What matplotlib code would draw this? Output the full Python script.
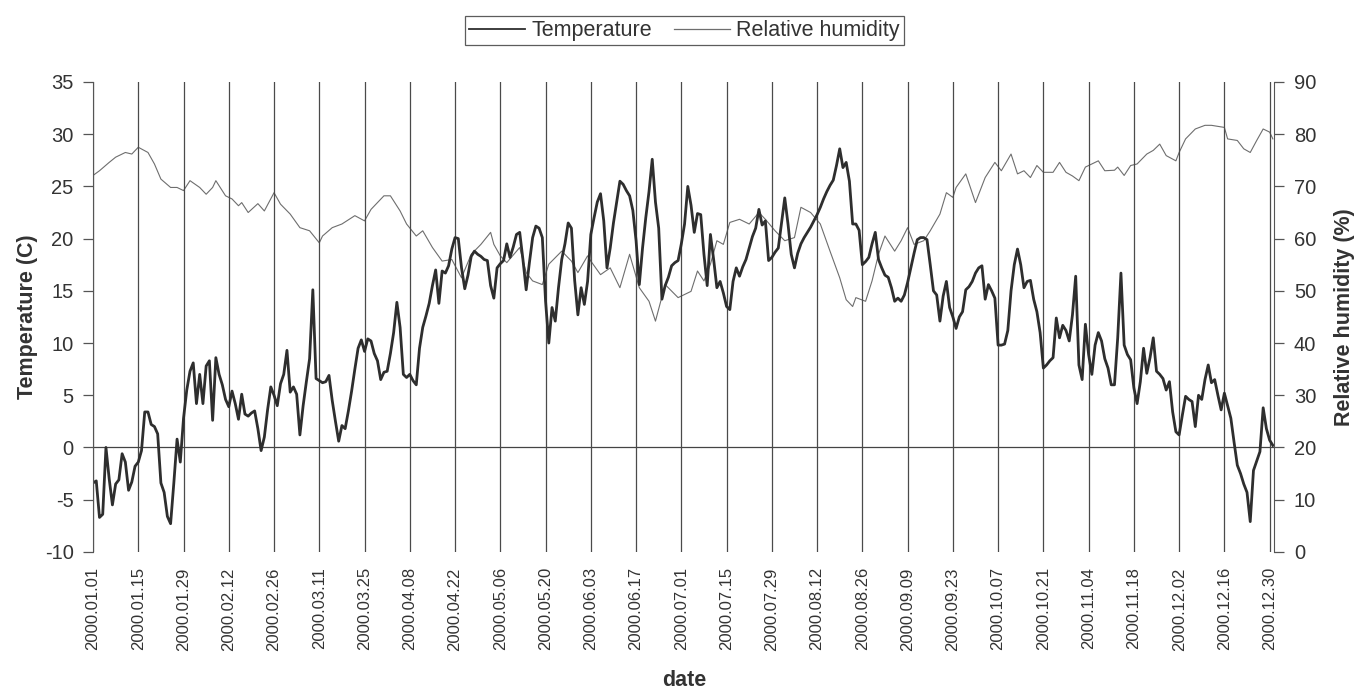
import matplotlib
matplotlib.use('Agg')
import matplotlib.pyplot as plt
import matplotlib.dates as mdates
from matplotlib.lines import Line2D
import pandas as pd

plt.rcParams['font.family'] = ['Liberation Sans', 'DejaVu Sans']
plt.rcParams['axes.unicode_minus'] = False

# daily mean temperature (C), 2000.01.01 .. 2000.12.31
temperature = [
    -3.4, -3.2, -6.7, -6.4, 0.0, -3.0, -5.5, -3.5, -3.1, -0.6,
    -1.4, -4.1, -3.3, -1.8, -1.4, -0.3, 3.4, 3.4, 2.2, 2.0,
    1.3, -3.4, -4.3, -6.6, -7.3, -3.4, 0.8, -1.4, 2.8, 5.5,
    7.3, 8.1, 4.2, 7.0, 4.2, 7.8, 8.3, 2.6, 8.6, 7.0,
    6.0, 4.6, 3.9, 5.4, 4.2, 2.7, 5.1, 3.2, 3.0, 3.3,
    3.5, 1.8, -0.3, 1.0, 3.6, 5.8, 5.0, 4.0, 6.1, 7.0,
    9.3, 5.3, 5.8, 5.1, 1.2, 4.0, 6.3, 8.5, 15.1, 6.6,
    6.4, 6.2, 6.3, 6.9, 4.5, 2.5, 0.6, 2.1, 1.8, 3.5,
    5.4, 7.5, 9.5, 10.3, 9.2, 10.4, 10.2, 9.0, 8.3, 6.5,
    7.2, 7.3, 9.0, 11.0, 13.9, 11.5, 7.0, 6.7, 7.0, 6.4,
    6.0, 9.5, 11.5, 12.6, 13.8, 15.5, 17.0, 13.8, 16.9, 16.7,
    17.4, 19.0, 20.1, 20.0, 17.2, 15.2, 16.5, 18.3, 18.8, 18.5,
    18.3, 18.0, 17.9, 15.5, 14.3, 17.2, 17.6, 17.9, 19.5, 18.2,
    19.2, 20.4, 20.6, 18.0, 15.1, 17.7, 20.1, 21.2, 21.0, 20.1,
    14.0, 10.0, 13.4, 12.1, 15.3, 18.0, 19.5, 21.5, 21.0, 16.0,
    12.7, 15.3, 13.7, 15.9, 20.4, 22.0, 23.5, 24.3, 21.7, 17.2,
    19.1, 21.5, 23.5, 25.5, 25.2, 24.6, 24.1, 22.7, 19.8, 15.6,
    19.1, 22.0, 24.5, 27.6, 23.5, 21.0, 14.2, 15.5, 16.3, 17.4,
    17.7, 17.9, 19.5, 21.4, 25.0, 23.2, 20.6, 22.4, 22.3, 18.5,
    15.5, 20.4, 18.0, 15.3, 15.9, 14.8, 13.5, 13.2, 15.9, 17.2,
    16.4, 17.3, 18.0, 19.1, 20.2, 21.0, 22.8, 21.3, 21.7, 17.9,
    18.2, 18.7, 19.1, 21.5, 23.9, 21.4, 18.5, 17.2, 18.6, 19.5,
    20.1, 20.6, 21.1, 21.7, 22.3, 23.0, 23.8, 24.5, 25.1, 25.6,
    27.0, 28.6, 26.8, 27.3, 25.5, 21.4, 21.4, 20.8, 17.5, 17.8,
    18.2, 19.5, 20.6, 18.0, 17.2, 16.5, 16.3, 15.3, 14.0, 14.3,
    14.0, 14.6, 15.8, 17.2, 18.6, 19.9, 20.1, 20.1, 19.9, 17.5,
    15.0, 14.6, 12.1, 14.5, 15.9, 13.4, 12.5, 11.4, 12.5, 13.0,
    15.1, 15.4, 15.9, 16.7, 17.2, 17.4, 14.2, 15.6, 15.0, 14.3,
    9.8, 9.8, 9.9, 11.2, 15.0, 17.5, 19.0, 17.5, 15.3, 15.9,
    16.0, 14.2, 13.0, 11.0, 7.6, 7.9, 8.3, 8.6, 12.4, 10.5,
    11.7, 11.2, 10.2, 12.7, 16.4, 7.9, 6.5, 11.8, 8.9, 7.0,
    9.8, 11.0, 10.2, 8.5, 7.6, 6.0, 6.0, 10.5, 16.7, 9.8,
    8.9, 8.4, 5.7, 4.2, 6.3, 9.5, 7.1, 8.6, 10.5, 7.3,
    7.0, 6.6, 5.5, 6.3, 3.4, 1.5, 1.2, 3.1, 4.9, 4.6,
    4.4, 2.0, 5.0, 4.6, 6.5, 7.9, 6.2, 6.5, 5.0, 3.6,
    5.2, 4.0, 2.8, 0.5, -1.7, -2.5, -3.5, -4.3, -7.1, -2.2,
    -1.3, -0.4, 3.8, 1.8, 0.7, 0.2,
]

# relative humidity (%), read at these day offsets from 2000.01.01
humidity_days = [
    0, 2, 5, 7, 10, 12, 14, 17, 19, 21, 24, 26, 28, 30, 33, 35, 37, 38,
    41, 43, 45, 46, 48, 51, 53, 56, 58, 61, 64, 67, 70, 71, 74, 77, 81,
    84, 86, 90, 92, 95, 97, 100, 102, 105, 108, 111, 114, 117, 120, 123,
    124, 126, 128, 132, 134, 136, 139, 141, 145, 148, 150, 153, 154, 157,
    160, 163, 166, 169, 172, 174, 177, 181, 185, 187, 189, 191, 193, 195,
    197, 200, 203, 206, 208, 211, 214, 217, 219, 222, 225, 228, 231, 233,
    235, 236, 239, 241, 243, 245, 248, 250, 252, 254, 257, 259, 262, 264,
    266, 267, 270, 273, 276, 279, 281, 284, 286, 288, 290, 292, 294, 297,
    299, 301, 303, 305, 307, 311, 313, 316, 317, 319, 321, 323, 326, 328,
    330, 332, 335, 336, 338, 341, 344, 346, 350, 351, 354, 356, 358, 360,
    362, 364, 365,
]
humidity = [
    72.1, 73.0, 74.6, 75.6, 76.5, 76.2, 77.5, 76.5, 74.3, 71.4, 69.8, 69.8,
    69.2, 71.1, 69.8, 68.5, 69.8, 71.1, 68.2, 67.6, 66.3, 66.9, 65.0, 66.7,
    65.3, 68.8, 66.6, 64.7, 62.1, 61.5, 59.2, 60.5, 62.1, 62.8, 64.4, 63.4,
    65.6, 68.2, 68.2, 65.3, 62.8, 60.5, 61.5, 58.3, 55.7, 56.0, 52.5, 57.0,
    58.9, 61.2, 58.9, 56.7, 55.4, 58.3, 53.5, 51.9, 51.2, 55.1, 57.6, 55.7,
    53.5, 56.7, 55.7, 53.1, 54.4, 50.6, 57.0, 50.6, 48.0, 44.2, 51.2, 48.7,
    49.9, 53.8, 51.9, 55.1, 59.6, 58.9, 63.1, 63.7, 62.8, 65.0, 63.7, 61.5,
    59.6, 60.2, 66.0, 65.0, 62.8, 57.6, 52.5, 48.3, 47.0, 48.7, 48.0, 51.9,
    57.0, 60.5, 57.6, 59.6, 62.1, 58.9, 59.6, 61.5, 64.7, 68.8, 67.9, 69.8,
    72.4, 66.9, 71.7, 74.6, 73.0, 76.2, 72.4, 73.0, 71.7, 74.0, 72.7, 72.7,
    74.6, 72.7, 72.0, 71.1, 73.7, 74.9, 73.0, 73.1, 73.7, 72.1, 74.0, 74.3,
    76.2, 76.9, 78.1, 75.9, 74.9, 76.5, 79.1, 81.0, 81.7, 81.7, 81.3, 79.1,
    78.8, 77.2, 76.5, 78.8, 81.0, 80.4, 79.1,
]

start = pd.Timestamp('2000-01-01')
temp_dates = pd.date_range(start, periods=len(temperature), freq='D')
hum_dates = start + pd.to_timedelta(humidity_days, unit='D')
tick_dates = pd.date_range(start, '2000-12-30', freq='14D')

fig = plt.figure(figsize=(13.58, 6.89), dpi=100)
ax = fig.add_axes([0.0685, 0.199, 0.870, 0.682])
ax2 = ax.twinx()

ax2.plot(hum_dates, humidity, color='#6e6e6e', linewidth=0.8)
ax.plot(temp_dates, temperature, color='#2e2e2e', linewidth=2.0)
ax.axhline(0, color='#444444', linewidth=0.9, zorder=1)

ax.set_zorder(ax2.get_zorder() + 1)
ax.patch.set_visible(False)

ax.set_xlim(start, start + pd.Timedelta(days=365.5))
ax.set_ylim(-10, 35)
ax2.set_ylim(0, 90)
ax.set_yticks(range(-10, 36, 5))
ax2.set_yticks(range(0, 91, 10))

ax.set_xticks(tick_dates)
ax.xaxis.set_major_formatter(mdates.DateFormatter('%Y.%m.%d'))
ax.tick_params(axis='x', length=0, labelsize=12, rotation=90, pad=11,
               labelcolor='#333333')
ax.tick_params(axis='y', length=7, width=0.9, color='#555555', labelsize=14.5,
               pad=7, labelcolor='#333333')
ax2.tick_params(axis='y', length=7, width=0.9, color='#555555', labelsize=14.5,
                pad=7, labelcolor='#333333')
ax.grid(axis='x', color='#4a4a4a', linewidth=0.9)

for a in (ax, ax2):
    a.spines['top'].set_visible(False)
    a.spines['bottom'].set_visible(False)
    a.spines['left'].set_color('#555555')
    a.spines['right'].set_color('#555555')
ax.spines['right'].set_visible(False)
ax2.spines['left'].set_visible(False)

ax.set_ylabel('Temperature (C)', fontsize=15.5, fontweight='bold', labelpad=5,
              color='#333333')
ax2.set_ylabel('Relative humidity (%)', fontsize=15.5, fontweight='bold',
               labelpad=13, color='#333333')
ax.set_xlabel('date', fontsize=15.5, fontweight='bold', labelpad=14,
              color='#333333')

handles = [Line2D([], [], color='#2e2e2e', linewidth=1.3),
           Line2D([], [], color='#6e6e6e', linewidth=0.9)]
leg = fig.legend(handles, ['Temperature', 'Relative humidity'], loc='upper center',
                 bbox_to_anchor=(0.504, 0.977), borderaxespad=0, ncol=2,
                 fontsize=15.5, frameon=True, fancybox=False, handlelength=2.6,
                 handletextpad=0.3, columnspacing=1.0, borderpad=0.2,
                 labelcolor='#333333')
leg.get_frame().set_edgecolor('#333333')
leg.get_frame().set_linewidth(0.9)

fig.savefig('out.png', dpi=100)
